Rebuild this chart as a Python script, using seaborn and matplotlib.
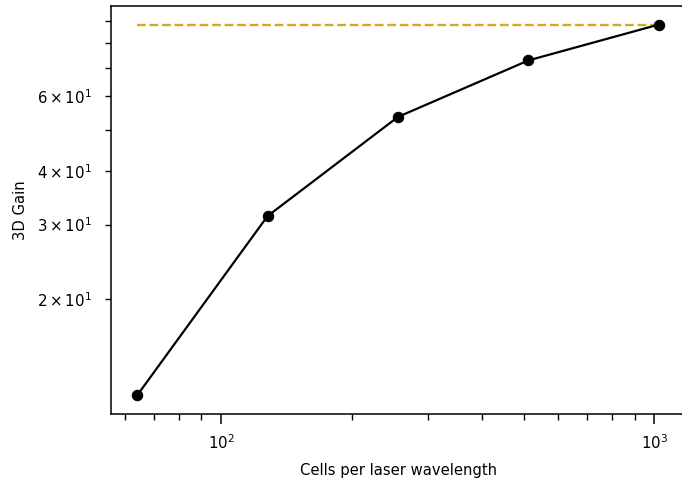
import matplotlib
matplotlib.use("Agg")
import matplotlib.pyplot as plt
import seaborn as sns
import pandas as pd

# Resolution scan: cells per laser wavelength vs. 3D gain
cells_per_wavelength = [64, 128, 256, 512, 1024]
gain_3d = [11.9, 31.4, 53.7, 72.9, 88.5]

# Reference level at the finest resolution
ref_x = [cells_per_wavelength[0], cells_per_wavelength[-1]]
ref_y = [gain_3d[-1], gain_3d[-1]]

df = pd.DataFrame({"cells": cells_per_wavelength, "gain": gain_3d})
ref = pd.DataFrame({"cells": ref_x, "gain": ref_y})

plt.rcParams.update({
    "font.family": ["DejaVu Sans"],
    "font.size": 10.6,
    "axes.labelsize": 10.6,
    "xtick.labelsize": 10.8,
    "ytick.labelsize": 10.8,
    "axes.linewidth": 1.1,
    "xtick.major.size": 7,
    "xtick.minor.size": 4,
    "ytick.major.size": 7,
    "ytick.minor.size": 4,
    "xtick.major.width": 1.1,
    "xtick.minor.width": 1.0,
    "ytick.major.width": 1.1,
    "ytick.minor.width": 1.0,
    "xtick.major.pad": 7,
    "xtick.minor.pad": 7,
    "ytick.major.pad": 9.5,
    "ytick.minor.pad": 9.5,
})

fig = plt.figure(figsize=(6.82, 4.86), dpi=100)
ax = fig.add_axes([111 / 682, 72 / 486, 574 / 682, 408 / 486])

sns.lineplot(data=ref, x="cells", y="gain", ax=ax, color="goldenrod",
             linestyle="--", linewidth=1.7)
sns.lineplot(data=df, x="cells", y="gain", ax=ax, color="black",
             marker="o", markersize=7.5, markeredgecolor="black", linewidth=1.6)

ax.set_xscale("log")
ax.set_yscale("log")
ax.set_xlabel("Cells per laser wavelength", labelpad=7.5)
ax.set_ylabel("3D Gain", labelpad=6.5)

fig.savefig("out.png", dpi=100)
